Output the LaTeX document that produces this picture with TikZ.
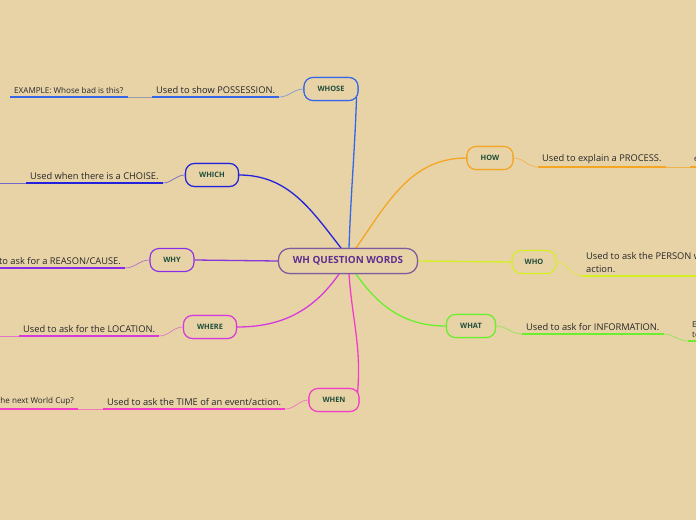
\documentclass[tikz,border=0pt]{standalone}
\usepackage{fontspec}
\setmainfont{Open Sans}
\usetikzlibrary{calc}
\definecolor{bg}{HTML}{E8D3A7}
\definecolor{ctrB}{HTML}{7D5C9E}
\definecolor{ctrT}{HTML}{5E2F8E}
\definecolor{ntext}{HTML}{1F4D3A}
\definecolor{cWhose}{HTML}{3366E8}
\definecolor{cWhich}{HTML}{2222DD}
\definecolor{cWhy}{HTML}{8A2BE8}
\definecolor{cWhere}{HTML}{D63ADB}
\definecolor{cWhen}{HTML}{F53CC8}
\definecolor{cHow}{HTML}{F5A524}
\definecolor{cWho}{HTML}{D4F020}
\definecolor{cWhat}{HTML}{6BEE2E}
\definecolor{stext}{HTML}{262626}
\tikzset{
  topic/.style={draw, rounded corners=9pt, line width=1.1pt, fill=bg,
    font=\fontsize{7.4}{9}\selectfont\bfseries, text=ntext,
    minimum height=23pt, inner sep=0pt},
  center/.style={draw=ctrB, rounded corners=11pt, line width=1.1pt, fill=bg,
    font=\fontsize{9.9}{11}\selectfont\bfseries, text=ctrT,
    minimum width=139pt, minimum height=25pt, inner sep=0pt},
  sub/.style={font=\fontsize{9.3}{12.5}\selectfont, text=stext, inner xsep=4pt, inner ysep=3.5pt},
  ex/.style={font=\fontsize{8.1}{10}\selectfont, text=stext, inner xsep=4pt, inner ysep=3.5pt},
  branch/.style={line width=1.3pt},
  uline/.style={line width=1.5pt},
  thin/.style={line width=0.7pt},
}
\begin{document}
\begin{tikzpicture}[x=1pt,y=-1pt]
\useasboundingbox (0,0) rectangle (696,520);
\fill[bg] (0,0) rectangle (696,520);
\clip (0,0) rectangle (696,520);

% nodes
\node[center] (c) at (348,261) {WH QUESTION WORDS};
\node[topic, draw=cWhose, minimum width=54pt] (whose) at (331,89) {WHOSE};
\node[topic, draw=cWhich, minimum width=53pt] (which) at (212,175) {WHICH};
\node[topic, draw=cWhy, minimum width=44pt] (why) at (172,260) {WHY};
\node[topic, draw=cWhere, minimum width=53pt] (where) at (210,327) {WHERE};
\node[topic, draw=cWhen, minimum width=50pt] (when) at (334,400) {WHEN};
\node[topic, draw=cHow, minimum width=46pt] (how) at (490,158) {HOW};
\node[topic, draw=cWho, minimum width=44pt] (who) at (534,262) {WHO};
\node[topic, draw=cWhat, minimum width=49pt] (what) at (471,326) {WHAT};

% subtopics
\node[sub, anchor=south west] (whoseT) at (152,97) {Used to show POSSESSION.};
\node[ex, anchor=south west] (whoseE) at (10,97) {EXAMPLE: Whose bad is this?};
\node[sub, anchor=south west] (whichT) at (26,183) {Used when there is a CHOISE.};
\coordinate (whichX) at (-5,183);
\node[sub, anchor=south east] (whyT) at (125,268) {Used to ask for a REASON/CAUSE.};
\node[sub, anchor=south west] (whereT) at (19,336) {Used to ask for the LOCATION.};
\coordinate (whereX) at (-5,336);
\node[sub, anchor=south west] (whenT) at (103,409) {Used to ask the TIME of an event/action.};
\node[ex, anchor=south east] (whenE) at (78,409) {EXAMPLE: When is the next World Cup?};
\node[sub, anchor=south west] (howT) at (538,167) {Used to explain a PROCESS.};
\node[ex, anchor=south west] (howE) at (690,167) {e.g. How do you make a cake?};
\node[sub, anchor=south west, align=left] (whoT) at (582,276) {Used to ask the PERSON who does the\\action.};
\node[sub, anchor=south west] (whatT) at (522,334) {Used to ask for INFORMATION.};
\node[ex, anchor=south west, align=left] (whatE) at (688,341) {EXAMPLE: What is your\\team?};

% main branches
\draw[branch, cWhose] ($(c.north)+(1,0)$) to[out=88,in=-92] ($(whose.south east)+(-2,-4)$);
\draw[branch, cWhich] ($(c.north)+(-7,0)$) to[out=128,in=0] (which.east);
\draw[branch, cHow] ($(c.north)+(8,0)$) to[out=55,in=180] (how.west);
\draw[branch, cWhy!80!ctrB] (c.west) -- (why.east);
\draw[branch, cWho] (c.east) -- (who.west);
\draw[branch, cWhere] ($(c.south)+(-9,0)$) to[out=-125,in=0] (where.east);
\draw[branch, cWhen] ($(c.south)+(1,0)$) to[out=-86,in=85] ($(when.north east)+(-2,5)$);
\draw[branch, cWhat] ($(c.south)+(8,0)$) to[out=-55,in=180] (what.west);

% redraw nodes above branches
\node[center] at (c) {WH QUESTION WORDS};
\node[topic, draw=cWhose, minimum width=54pt] at (whose) {WHOSE};
\node[topic, draw=cWhich, minimum width=53pt] at (which) {WHICH};
\node[topic, draw=cWhen, minimum width=50pt] at (when) {WHEN};
\node[topic, draw=cHow, minimum width=46pt] at (how) {HOW};
\node[topic, draw=cWhere, minimum width=53pt] at (where) {WHERE};
\node[topic, draw=cWhat, minimum width=49pt] at (what) {WHAT};

% topic -> subtopic connectors
\draw[thin, cWhose!55!bg] (whose.west) to[out=180,in=0] (whoseT.south east);
\draw[thin, cWhich!60!bg] (which.west) to[out=180,in=0] (whichT.south east);
\draw[thin, cWhy!60!bg] (why.west) to[out=180,in=0] (whyT.south east);
\draw[thin, cWhere!60!bg] (where.west) to[out=180,in=0] (whereT.south east);
\draw[thin, cWhen!60!bg] (when.west) to[out=180,in=0] (whenT.south east);
\draw[thin, cHow!70!bg] (how.east) to[out=0,in=180] (howT.south west);
\draw[thin, cWho!80!bg] (who.east) to[out=0,in=180] (whoT.south west);
\draw[thin, cWhat!70!bg] (what.east) to[out=0,in=180] (whatT.south west);

% subtopic -> example connectors
\draw[thin, cWhose!40!bg!70!gray] (whoseT.south west) -- (whoseE.south east);
\draw[thin, cWhich!60!bg] (whichT.south west) -- (whichX);
\draw[thin, cWhere!60!bg] (whereT.south west) -- (whereX);
\draw[thin, cWhen!60!bg] (whenT.south west) -- (whenE.south east);
\draw[thin, cHow!70!bg] (howT.south east) -- (howE.south west);
\draw[thin, cWhat!70!bg] (whatT.south east) to[out=0,in=180] (whatE.south west);

% underlines
\draw[uline, cWhose] (whoseT.south west) -- (whoseT.south east);
\draw[uline, cWhose] (whoseE.south west) -- (whoseE.south east);
\draw[uline, cWhich] (whichT.south west) -- (whichT.south east);
\draw[uline, cWhy] (whyT.south west) -- (whyT.south east);
\draw[uline, cWhere] (whereT.south west) -- (whereT.south east);
\draw[uline, cWhen] (whenT.south west) -- (whenT.south east);
\draw[uline, cWhen] (whenE.south west) -- (whenE.south east);
\draw[uline, cHow] (howT.south west) -- (howT.south east);
\draw[uline, cHow] (howE.south west) -- (howE.south east);
\draw[uline, cWho] (whoT.south west) -- (whoT.south east);
\draw[uline, cWhat] (whatT.south west) -- (whatT.south east);
\draw[uline, cWhat] (whatE.south west) -- (whatE.south east);
\end{tikzpicture}
\end{document}
